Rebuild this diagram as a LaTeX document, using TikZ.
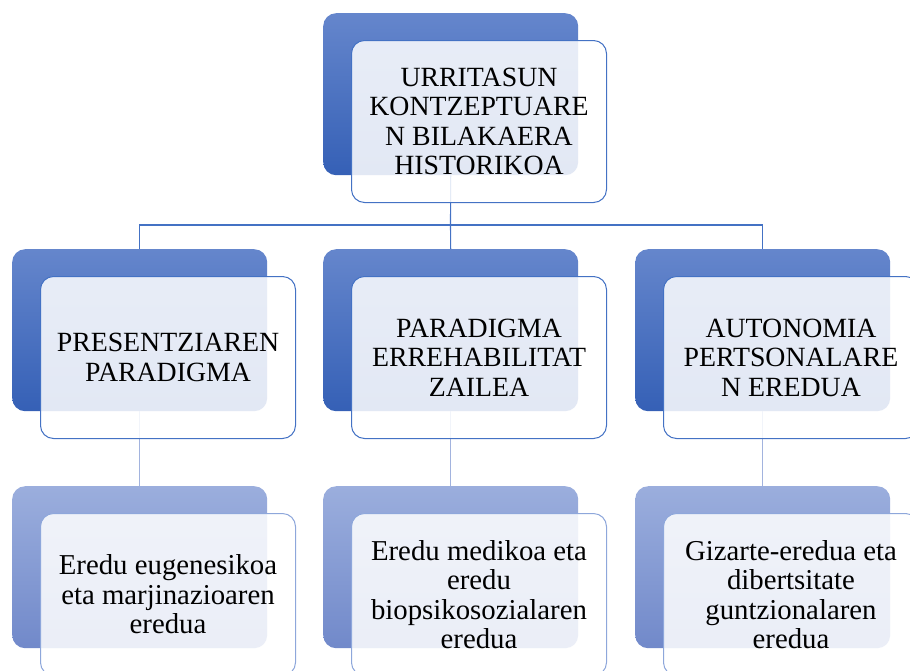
\documentclass[tikz,border=0pt]{standalone}
\usepackage{fontspec}
\setmainfont{Liberation Serif}
\definecolor{lnblue}{HTML}{4472C4}
\definecolor{lnlight}{HTML}{A2B3DE}
\definecolor{bkAtop}{HTML}{6586CC}
\definecolor{bkAbot}{HTML}{3560B6}
\definecolor{bkBtop}{HTML}{9BAEDD}
\definecolor{bkBbot}{HTML}{7189CA}
\definecolor{frBline}{HTML}{8EA7DB}
\begin{document}
\begin{tikzpicture}[x=1pt,y=-1pt,
  backbox/.style={anchor=north west, minimum width=255pt, minimum height=162pt, inner sep=0pt, rounded corners=13pt},
  backA/.style={backbox, top color=bkAtop, bottom color=bkAbot},
  backB/.style={backbox, top color=bkBtop, bottom color=bkBbot},
  frontbox/.style={anchor=north west, minimum width=255pt, minimum height=162pt, inner sep=0pt, rounded corners=13pt,
    fill=white, fill opacity=0.86, text opacity=1, line width=1pt, align=center},
  frontA/.style={frontbox, draw=lnblue, font=\rmfamily\fontsize{27.8}{29.5}\selectfont},
  frontB/.style={frontbox, draw=frBline, font=\rmfamily\fontsize{28.8}{29.5}\selectfont},
  conA/.style={draw=lnblue, line width=1.1pt},
  conB/.style={draw=lnlight, line width=1.1pt}
]
\useasboundingbox (0,0) rectangle (910,670);
% back boxes
\node[backA] (tb) at (323,13) {};
\node[backA] (lb) at (12,249) {};
\node[backA] (mb) at (323,249) {};
\node[backA] (rb) at (635,249) {};
\node[backB] (lc) at (12,486) {};
\node[backB] (mc) at (323,486) {};
\node[backB] (rc) at (635,486) {};
% connectors
\coordinate (j) at (450.5,225);
\draw[conA] (tb.south) -- (j);
\draw[conA] (lb.north) |- (j) -| (rb.north);
\draw[conA] (j) -- (mb.north);
\draw[conB] (lb.south) -- (lc.north);
\draw[conB] (mb.south) -- (mc.north);
\draw[conB] (rb.south) -- (rc.north);
% front boxes
\node[frontA] (tf) at (351,40) {URRITASUN\\KONTZEPTUARE\\N BILAKAERA\\HISTORIKOA};
\node[frontA] (lf) at (40,276) {PRESENTZIAREN\\PARADIGMA};
\node[frontA] (mf) at (351,276) {PARADIGMA\\ERREHABILITAT\\ZAILEA};
\node[frontA] (rf) at (663,276) {AUTONOMIA\\PERTSONALARE\\N EREDUA};
\node[frontB] (lg) at (40,513) {Eredu eugenesikoa\\eta marjinazioaren\\eredua};
\node[frontB] (mg) at (351,513) {Eredu medikoa eta\\eredu\\biopsikosozialaren\\eredua};
\node[frontB] (rg) at (663,513) {Gizarte-eredua eta\\dibertsitate\\guntzionalaren\\eredua};
\end{tikzpicture}
\end{document}
